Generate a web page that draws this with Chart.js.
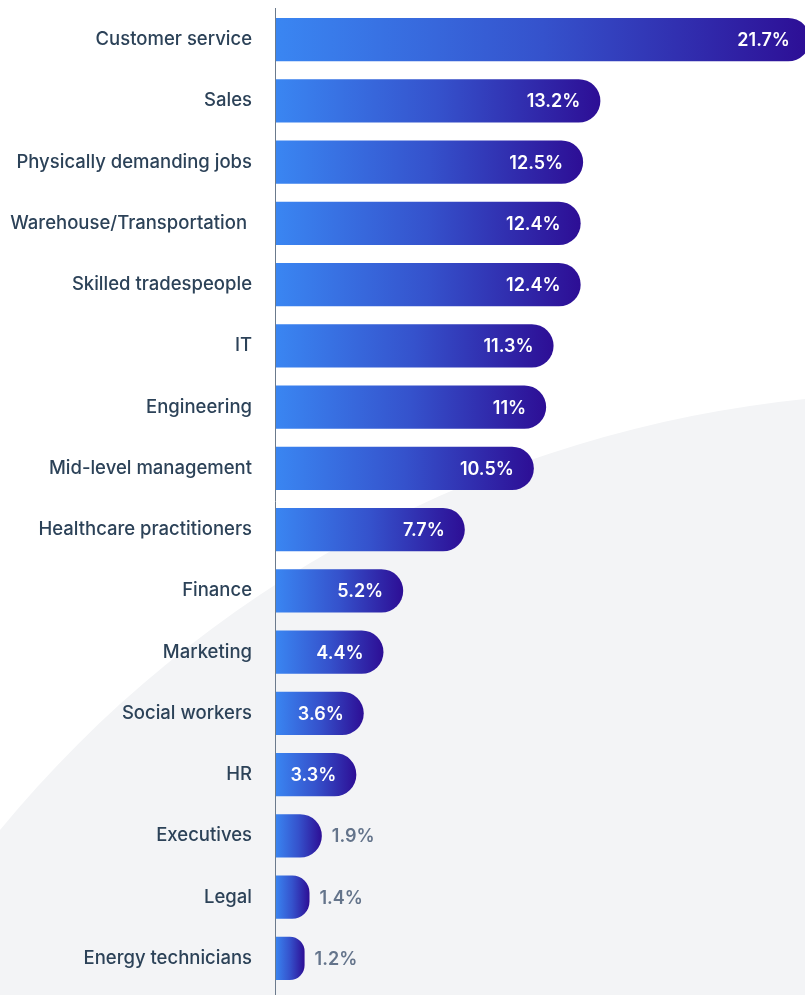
<!DOCTYPE html>
<html>
<head>
<meta charset="utf-8">
<script src="https://cdn.jsdelivr.net/npm/chart.js@4"></script>
<style>
  html, body { margin: 0; padding: 0; background: #ffffff; }
  #wrap { width: 805px; height: 995px; position: relative; }
</style>
</head>
<body>
<div id="wrap"><canvas id="jobsChart"></canvas></div>
<script>
// share of jobs by category (%)
const categories = [
  "Customer service", "Sales", "Physically demanding jobs", "Warehouse/Transportation ",
  "Skilled tradespeople", "IT", "Engineering", "Mid-level management",
  "Healthcare practitioners", "Finance", "Marketing", "Social workers",
  "HR", "Executives", "Legal", "Energy technicians"
];
const shares = [21.7, 13.2, 12.5, 12.4, 12.4, 11.3, 11, 10.5, 7.7, 5.2, 4.4, 3.6, 3.3, 1.9, 1.4, 1.2];
const shareLabels = ["21.7%", "13.2%", "12.5%", "12.4%", "12.4%", "11.3%", "11%", "10.5%",
  "7.7%", "5.2%", "4.4%", "3.6%", "3.3%", "1.9%", "1.4%", "1.2%"];

// light grey swoosh behind the chart
const backdrop = {
  id: "backdrop",
  beforeDraw(chart) {
    const { ctx, width, height } = chart;
    ctx.save();
    ctx.fillStyle = "#ffffff";
    ctx.fillRect(0, 0, width, height);
    ctx.beginPath();
    ctx.arc(width * 1.15, height * 1.6, height * 1.205, 0, Math.PI * 2);
    ctx.fillStyle = "#f3f4f6";
    ctx.fill();
    ctx.restore();
  },
};

// axis line down to the bottom edge
const axisLine = {
  id: "axisLine",
  afterDraw(chart) {
    const { ctx, chartArea } = chart;
    ctx.save();
    ctx.strokeStyle = "#6b7a8c";
    ctx.lineWidth = 1;
    ctx.beginPath();
    ctx.moveTo(chartArea.left + 0.5, chartArea.top - 1);
    ctx.lineTo(chartArea.left + 0.5, chart.height);
    ctx.stroke();
    ctx.restore();
  },
};

// value labels: inside the bar when it is long enough, otherwise after it
const valueLabels = {
  id: "valueLabels",
  afterDatasetsDraw(chart) {
    const { ctx } = chart;
    const meta = chart.getDatasetMeta(0);
    ctx.save();
    ctx.font = "600 18px Inter";
    ctx.textBaseline = "middle";
    meta.data.forEach((bar, i) => {
      const w = bar.x - bar.base;
      if (w > 70) {
        ctx.fillStyle = "#ffffff";
        ctx.textAlign = "right";
        ctx.fillText(shareLabels[i], Math.min(bar.x, chart.chartArea.right + 5) - 20, bar.y + 1);
      } else {
        ctx.fillStyle = "#64748b";
        ctx.textAlign = "left";
        ctx.fillText(shareLabels[i], bar.x + 10, bar.y + 1);
      }
    });
    ctx.restore();
  },
};

function barGradient(context) {
  const chart = context.chart;
  const x = chart.scales.x;
  if (!chart.chartArea || !x) return "#3b82f6";
  const start = x.getPixelForValue(0);
  const end = x.getPixelForValue(shares[context.dataIndex]);
  const g = chart.ctx.createLinearGradient(start, 0, end, 0);
  g.addColorStop(0, "#3a86f2");
  g.addColorStop(0.5, "#3552cc");
  g.addColorStop(1, "#2d0e95");
  return g;
}

new Chart(document.getElementById("jobsChart"), {
  type: "bar",
  data: {
    labels: categories,
    datasets: [
      {
        data: shares,
        backgroundColor: barGradient,
        borderRadius: { topRight: 22, bottomRight: 22 },
        borderSkipped: "start",
        categoryPercentage: 1,
        barPercentage: 0.71,
      },
    ],
  },
  options: {
    indexAxis: "y",
    responsive: true,
    maintainAspectRatio: false,
    animation: false,
    layout: { padding: { top: 9, bottom: 6, left: 0, right: 0 } },
    plugins: {
      legend: { display: false },
      tooltip: { enabled: false },
    },
    scales: {
      x: {
        display: false,
        min: 0,
        max: 21.5,
      },
      y: {
        grid: { display: false, drawTicks: false },
        border: { display: false },
        ticks: {
          padding: 23,
          color: "#2c4258",
          font: { family: "Inter", size: 18.5, weight: "500" },
        },
        afterFit(scale) {
          scale.width = 275;
          scale.paddingTop = 0;
          scale.paddingBottom = 0;
        },
      },
    },
  },
  plugins: [backdrop, axisLine, valueLabels],
});
</script>
</body>
</html>
